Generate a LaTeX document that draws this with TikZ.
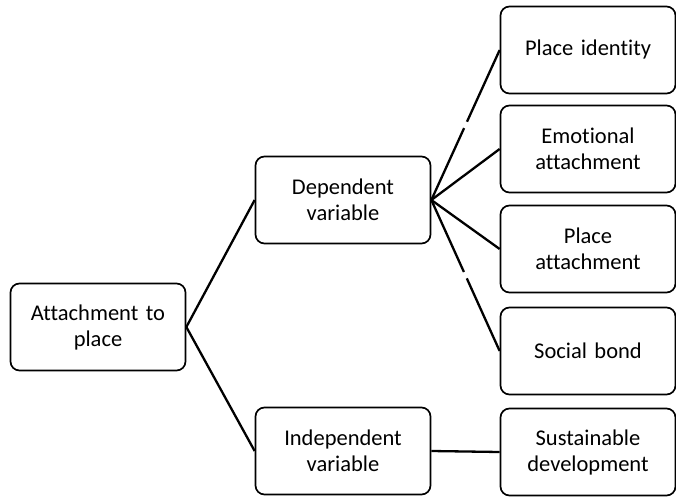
\documentclass[tikz,border=0pt]{standalone}
\usepackage{fontspec}
\setmainfont[RawFeature=-liga,WordSpace=0.6]{Carlito}
\usepackage{tikz}

\begin{document}
\begin{tikzpicture}[x=1pt,y=-1pt,
    box/.style={draw,line width=1.7pt,rounded corners=9pt,
                minimum width=175pt,minimum height=87pt,
                text width=160pt,align=center,inner sep=0pt,
                font=\fontsize{22.5}{26}\selectfont},
    link/.style={line width=2.3pt},
    broken/.style={link,dash pattern=on 79pt off 7pt on 200pt}]

  \useasboundingbox (0,0) rectangle (676,497);

  % --- root and the two kinds of variable ---
  \node[box] (attach) at ( 98,327) {Attachment to\\place};
  \node[box] (dep)    at (343,200) {Dependent\\variable};
  \node[box] (indep)  at (343,451) {Independent\\variable};

  % --- the right column ---
  \node[box] (ident)   at (588, 50) {Place identity};
  \node[box] (emot)    at (588,149) {Emotional\\attachment};
  \node[box] (pattach) at (588,249) {Place\\attachment};
  \node[box] (social)  at (588,351) {Social bond};
  \node[box] (sustain) at (588,452) {Sustainable\\development};

  % --- connectors ---
  \draw[link] (attach.east) -- (dep.west);
  \draw[link] (attach.east) -- (indep.west);
  \draw[broken] (dep.east) -- (ident.west);
  \draw[link] (dep.east) -- (emot.west);
  \draw[link] (dep.east) -- (pattach.west);
  \draw[broken] (dep.east) -- (social.west);
  \draw[link] (indep.east) -- (sustain.west);
\end{tikzpicture}
\end{document}
